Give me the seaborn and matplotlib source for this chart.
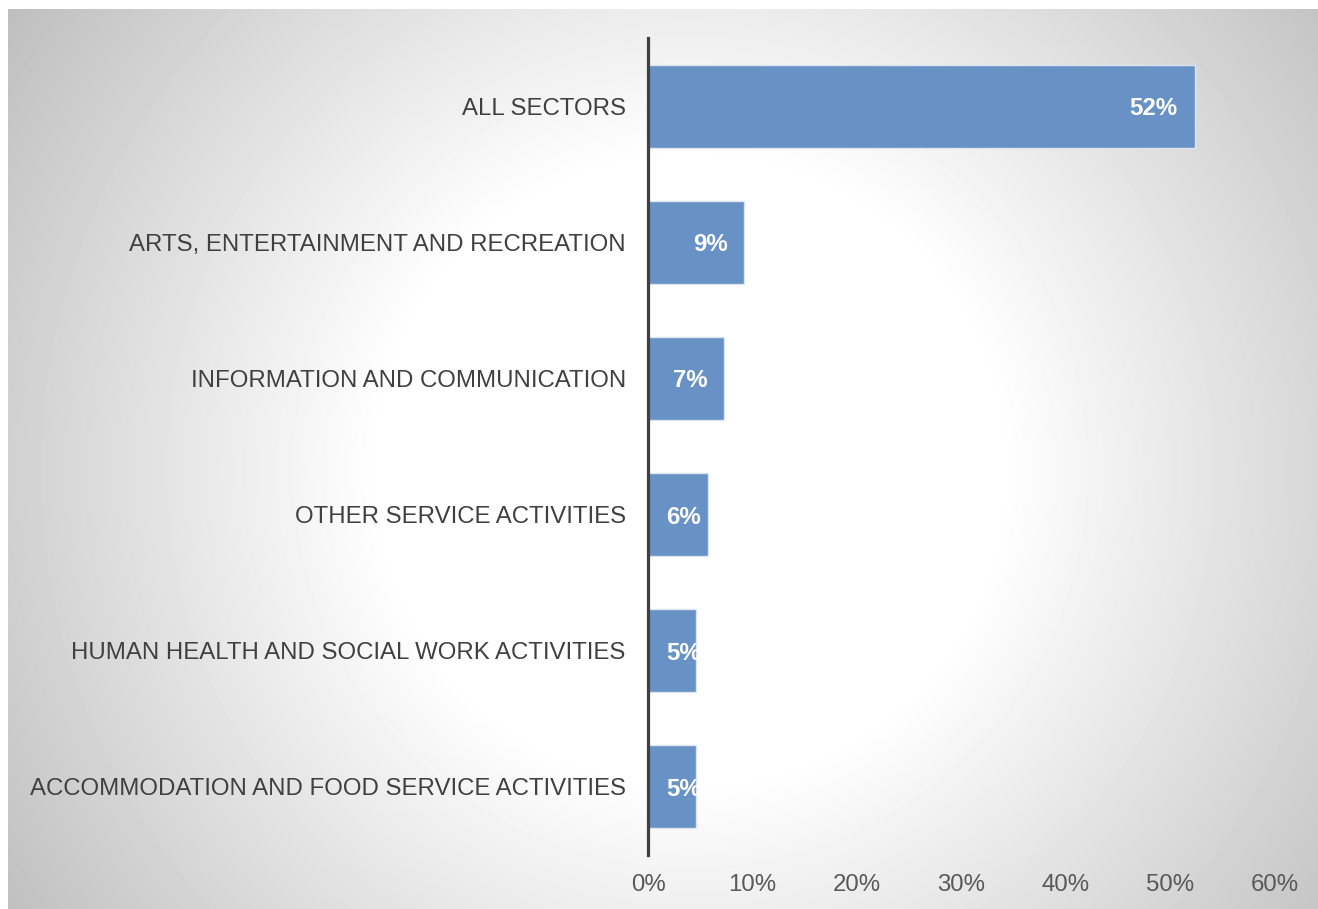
import numpy as np
import pandas as pd
import matplotlib
matplotlib.use("Agg")
import matplotlib.pyplot as plt
import seaborn as sns
from matplotlib.ticker import FuncFormatter

# Share of businesses by sector
sectors = [
    "ALL SECTORS",
    "ARTS, ENTERTAINMENT AND RECREATION",
    "INFORMATION AND COMMUNICATION",
    "OTHER SERVICE ACTIVITIES",
    "HUMAN HEALTH AND SOCIAL WORK ACTIVITIES",
    "ACCOMMODATION AND FOOD SERVICE ACTIVITIES",
]
shares = [52.3, 9.2, 7.3, 5.7, 4.6, 4.6]
x_ticks = [0, 10, 20, 30, 40, 50, 60]

df = pd.DataFrame({"sector": sectors, "share": shares})

sns.set_theme(style="white")
plt.rcParams["font.family"] = ["Liberation Sans", "DejaVu Sans"]

FS = 17.3
W, H, DPI = 1318, 909, 100
fig = plt.figure(figsize=(W / DPI, H / DPI), dpi=DPI)
fig.patch.set_facecolor("white")

# Panel with a radial white-to-grey shading
left_px, top_px = 8, 9
pw, ph = W - left_px, H - top_px
bg = fig.add_axes([left_px / W, 0, pw / W, ph / H], zorder=0)
yy, xx = np.mgrid[0:ph, 0:pw]
cx, cy = 690 - left_px, 470 - top_px
r = np.hypot(xx - cx, yy - cy)
shade = 1 - np.clip((r - 310) * 0.126, 0, None) / 255
bg.imshow(shade, cmap="gray", vmin=0, vmax=1, aspect="auto",
          interpolation="bilinear")
bg.set_axis_off()

# Bar chart
ax = fig.add_axes([648 / W, 1 - 855 / H, 627 / W, 817 / H], zorder=1)
ax.patch.set_alpha(0)
sns.barplot(data=df, x="share", y="sector", order=sectors, color="#6892C5",
            saturation=1, width=0.61, edgecolor="#dce6f2", linewidth=1,
            ax=ax)

ax.set_xlim(0, 60)
ax.set_ylim(len(sectors) - 0.5, -0.5)
ax.set_xticks(x_ticks)
ax.xaxis.set_major_formatter(FuncFormatter(lambda v, _: f"{v:.0f}%"))
ax.set_xlabel("")
ax.set_ylabel("")

for side in ("top", "right", "bottom"):
    ax.spines[side].set_visible(False)
ax.spines["left"].set_color("#404040")
ax.spines["left"].set_linewidth(2.3)

ax.tick_params(axis="x", length=0, pad=14, labelsize=FS, labelcolor="#595959")
ax.tick_params(axis="y", length=0, pad=16, labelsize=FS, labelcolor="#404040")

# Value labels inside the bar ends
for i, v in enumerate(shares):
    ax.text(max(v - 1.6, 5.05), i, f"{v:.0f}%", ha="right",
            va="center_baseline", color="white", fontsize=FS,
            fontweight="bold")

fig.savefig("out.png", dpi=DPI, facecolor=fig.get_facecolor())
